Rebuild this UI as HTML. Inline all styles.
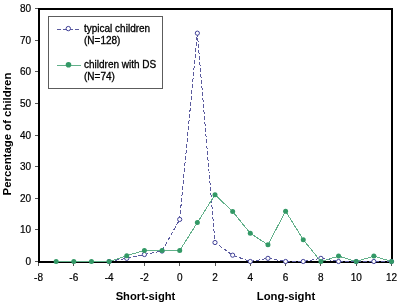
<!DOCTYPE html>
<html><head><meta charset="utf-8"><style>
html,body{margin:0;padding:0;background:#fff;}
svg{display:block;will-change:transform;}
.t{font-family:"Liberation Sans",sans-serif;font-size:10px;fill:#000;stroke:#000;stroke-width:0.2px;}
.l{font-family:"Liberation Sans",sans-serif;font-size:10px;fill:#000;stroke:#000;stroke-width:0.3px;}
.b{font-family:"Liberation Sans",sans-serif;font-size:11px;font-weight:bold;fill:#000;}
</style></head><body>
<svg width="401" height="307" viewBox="0 0 401 307">
<rect x="39" y="9" width="353" height="253" fill="none" stroke="#000" stroke-width="2"/>
<line x1="35" y1="261.5" x2="38" y2="261.5" stroke="#555" stroke-width="1"/>
<text x="31" y="265.1" text-anchor="end" class="t">0</text>
<line x1="35" y1="229.5" x2="38" y2="229.5" stroke="#555" stroke-width="1"/>
<text x="31" y="233.475" text-anchor="end" class="t">10</text>
<line x1="35" y1="198.5" x2="38" y2="198.5" stroke="#555" stroke-width="1"/>
<text x="31" y="201.85" text-anchor="end" class="t">20</text>
<line x1="35" y1="166.5" x2="38" y2="166.5" stroke="#555" stroke-width="1"/>
<text x="31" y="170.225" text-anchor="end" class="t">30</text>
<line x1="35" y1="135.5" x2="38" y2="135.5" stroke="#555" stroke-width="1"/>
<text x="31" y="138.6" text-anchor="end" class="t">40</text>
<line x1="35" y1="103.5" x2="38" y2="103.5" stroke="#555" stroke-width="1"/>
<text x="31" y="106.975" text-anchor="end" class="t">50</text>
<line x1="35" y1="71.5" x2="38" y2="71.5" stroke="#555" stroke-width="1"/>
<text x="31" y="75.35" text-anchor="end" class="t">60</text>
<line x1="35" y1="40.5" x2="38" y2="40.5" stroke="#555" stroke-width="1"/>
<text x="31" y="43.725" text-anchor="end" class="t">70</text>
<line x1="35" y1="8.5" x2="38" y2="8.5" stroke="#555" stroke-width="1"/>
<text x="31" y="12.1" text-anchor="end" class="t">80</text>
<line x1="38.5" y1="263" x2="38.5" y2="266" stroke="#555" stroke-width="1"/>
<text x="38.5" y="280.6" text-anchor="middle" class="t">-8</text>
<line x1="73.5" y1="263" x2="73.5" y2="266" stroke="#555" stroke-width="1"/>
<text x="73.8" y="280.6" text-anchor="middle" class="t">-6</text>
<line x1="109.5" y1="263" x2="109.5" y2="266" stroke="#555" stroke-width="1"/>
<text x="109.1" y="280.6" text-anchor="middle" class="t">-4</text>
<line x1="144.5" y1="263" x2="144.5" y2="266" stroke="#555" stroke-width="1"/>
<text x="144.39999999999998" y="280.6" text-anchor="middle" class="t">-2</text>
<line x1="179.5" y1="263" x2="179.5" y2="266" stroke="#555" stroke-width="1"/>
<text x="179.7" y="280.6" text-anchor="middle" class="t">0</text>
<line x1="215.5" y1="263" x2="215.5" y2="266" stroke="#555" stroke-width="1"/>
<text x="215.0" y="280.6" text-anchor="middle" class="t">2</text>
<line x1="250.5" y1="263" x2="250.5" y2="266" stroke="#555" stroke-width="1"/>
<text x="250.29999999999998" y="280.6" text-anchor="middle" class="t">4</text>
<line x1="285.5" y1="263" x2="285.5" y2="266" stroke="#555" stroke-width="1"/>
<text x="285.59999999999997" y="280.6" text-anchor="middle" class="t">6</text>
<line x1="320.5" y1="263" x2="320.5" y2="266" stroke="#555" stroke-width="1"/>
<text x="320.9" y="280.6" text-anchor="middle" class="t">8</text>
<line x1="356.5" y1="263" x2="356.5" y2="266" stroke="#555" stroke-width="1"/>
<text x="356.2" y="280.6" text-anchor="middle" class="t">10</text>
<line x1="391.5" y1="263" x2="391.5" y2="266" stroke="#555" stroke-width="1"/>
<text x="391.5" y="280.6" text-anchor="middle" class="t">12</text>
<text x="145.5" y="299.5" text-anchor="middle" class="b" style="font-size:11.2px">Short-sight</text>
<text x="286" y="299.5" text-anchor="middle" class="b" style="font-size:11.3px">Long-sight</text>
<text transform="translate(10.8,134) rotate(-90)" text-anchor="middle" class="b" style="font-size:11.4px">Percentage of children</text>
<polyline points="109.10,261.50 126.75,258.34 144.40,254.54 162.05,251.06 179.70,219.44 197.35,33.17 215.00,242.53 232.65,255.18 250.30,261.50 267.95,258.34 285.60,261.50 303.25,261.50 320.90,258.34 338.55,261.50 356.20,261.50 373.85,261.50 391.50,261.50" fill="none" stroke="#5a5a9e" stroke-width="1" stroke-dasharray="4,2" shape-rendering="crispEdges"/>
<circle cx="109.10" cy="261.50" r="2.1" fill="#fff" stroke="#3f3f96" stroke-width="1"/>
<circle cx="126.75" cy="258.34" r="2.1" fill="#fff" stroke="#3f3f96" stroke-width="1"/>
<circle cx="144.40" cy="254.54" r="2.1" fill="#fff" stroke="#3f3f96" stroke-width="1"/>
<circle cx="162.05" cy="251.06" r="2.1" fill="#fff" stroke="#3f3f96" stroke-width="1"/>
<circle cx="179.70" cy="219.44" r="2.1" fill="#fff" stroke="#3f3f96" stroke-width="1"/>
<circle cx="197.35" cy="33.17" r="2.1" fill="#fff" stroke="#3f3f96" stroke-width="1"/>
<circle cx="215.00" cy="242.53" r="2.1" fill="#fff" stroke="#3f3f96" stroke-width="1"/>
<circle cx="232.65" cy="255.18" r="2.1" fill="#fff" stroke="#3f3f96" stroke-width="1"/>
<circle cx="250.30" cy="261.50" r="2.1" fill="#fff" stroke="#3f3f96" stroke-width="1"/>
<circle cx="267.95" cy="258.34" r="2.1" fill="#fff" stroke="#3f3f96" stroke-width="1"/>
<circle cx="285.60" cy="261.50" r="2.1" fill="#fff" stroke="#3f3f96" stroke-width="1"/>
<circle cx="303.25" cy="261.50" r="2.1" fill="#fff" stroke="#3f3f96" stroke-width="1"/>
<circle cx="320.90" cy="258.34" r="2.1" fill="#fff" stroke="#3f3f96" stroke-width="1"/>
<circle cx="338.55" cy="261.50" r="2.1" fill="#fff" stroke="#3f3f96" stroke-width="1"/>
<circle cx="356.20" cy="261.50" r="2.1" fill="#fff" stroke="#3f3f96" stroke-width="1"/>
<circle cx="373.85" cy="261.50" r="2.1" fill="#fff" stroke="#3f3f96" stroke-width="1"/>
<circle cx="391.50" cy="261.50" r="2.1" fill="#fff" stroke="#3f3f96" stroke-width="1"/>
<polyline points="56.15,261.50 73.80,261.50 91.45,261.50 109.10,261.50 126.75,255.65 144.40,250.49 162.05,250.49 179.70,250.49 197.35,222.60 215.00,194.77 232.65,211.53 250.30,233.35 267.95,244.74 285.60,211.22 303.25,239.68 320.90,261.50 338.55,256.12 356.20,261.50 373.85,256.12 391.50,261.50" fill="none" stroke="#62b08a" stroke-width="1" shape-rendering="crispEdges"/>
<circle cx="56.15" cy="261.50" r="2.5" fill="#339966"/>
<circle cx="73.80" cy="261.50" r="2.5" fill="#339966"/>
<circle cx="91.45" cy="261.50" r="2.5" fill="#339966"/>
<circle cx="109.10" cy="261.50" r="2.5" fill="#339966"/>
<circle cx="126.75" cy="255.65" r="2.5" fill="#339966"/>
<circle cx="144.40" cy="250.49" r="2.5" fill="#339966"/>
<circle cx="162.05" cy="250.49" r="2.5" fill="#339966"/>
<circle cx="179.70" cy="250.49" r="2.5" fill="#339966"/>
<circle cx="197.35" cy="222.60" r="2.5" fill="#339966"/>
<circle cx="215.00" cy="194.77" r="2.5" fill="#339966"/>
<circle cx="232.65" cy="211.53" r="2.5" fill="#339966"/>
<circle cx="250.30" cy="233.35" r="2.5" fill="#339966"/>
<circle cx="267.95" cy="244.74" r="2.5" fill="#339966"/>
<circle cx="285.60" cy="211.22" r="2.5" fill="#339966"/>
<circle cx="303.25" cy="239.68" r="2.5" fill="#339966"/>
<circle cx="320.90" cy="261.50" r="2.5" fill="#339966"/>
<circle cx="338.55" cy="256.12" r="2.5" fill="#339966"/>
<circle cx="356.20" cy="261.50" r="2.5" fill="#339966"/>
<circle cx="373.85" cy="256.12" r="2.5" fill="#339966"/>
<circle cx="391.50" cy="261.50" r="2.5" fill="#339966"/>
<rect x="48.5" y="16.5" width="114" height="72" fill="#fff" stroke="#5c5c5c" stroke-width="1"/>
<line x1="57" y1="29.5" x2="79" y2="29.5" stroke="#5a5a9e" stroke-width="1" stroke-dasharray="4,2"/>
<circle cx="68.3" cy="28.6" r="2.2" fill="#fff" stroke="#3f3f96" stroke-width="1"/>
<text x="84" y="32" class="l">typical children</text>
<text x="84" y="44" class="l">(N=128)</text>
<line x1="57" y1="65.5" x2="81" y2="65.5" stroke="#62b08a" stroke-width="1"/>
<circle cx="68.5" cy="64.7" r="2.8" fill="#339966"/>
<text x="84" y="67.6" class="l">children with DS</text>
<text x="84" y="79.8" class="l">(N=74)</text>
</svg>
</body></html>
